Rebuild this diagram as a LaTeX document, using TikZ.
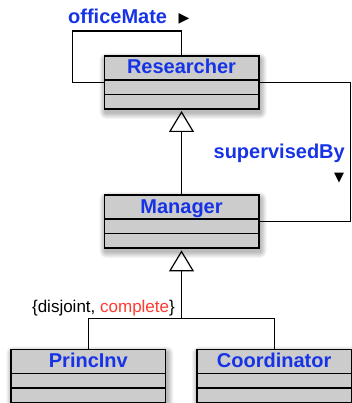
\documentclass[tikz,border=0pt]{standalone}
\usepackage{fontspec}
\setmainfont{Liberation Sans}
\newfontfamily\symfont{DejaVu Sans}
\usetikzlibrary{arrows.meta,calc,backgrounds}
\definecolor{umlblue}{RGB}{22,51,230}
\definecolor{umlred}{RGB}{255,59,48}
\definecolor{umlgray}{RGB}{204,204,204}
\tikzset{
  cls/.style={draw=black, fill=umlgray, line width=1.6pt, minimum width=154.4pt, minimum height=53pt, inner sep=0pt, outer sep=0pt},
  clsname/.style={anchor=base, inner sep=0pt, text=umlblue, font=\fontsize{20}{24}\selectfont\bfseries},
  divider/.style={line width=1.2pt},
  assoc/.style={line width=1.2pt},
  gen/.style={line width=1.2pt, -{Triangle[open, length=21pt, width=25pt, line width=1.2pt]}},
  lbl/.style={inner sep=0pt, text=umlblue, font=\fontsize{20}{24}\selectfont\bfseries},
  dirmark/.style={inner sep=0pt, font=\symfont\fontsize{14}{16}\selectfont},
}
\newcommand\umlclass[4]{%
  \node[cls, anchor=north] (#1) at (#2,#3) {};
  \begin{scope}[on background layer]
    \foreach \s in {1,...,7}{
      \fill[black, opacity=0.045, rounded corners=\s pt]
        ($(#1.north west)+(1.5-0.9*\s,3.5-0.9*\s)$) rectangle ($(#1.south east)+(1.5+0.9*\s,3.5+0.9*\s)$);
    }
  \end{scope}
  \node[clsname] (#1name) at ($(#1.north)+(0,18)$) {#4};
  \draw[divider] ($(#1.north west)+(0,24)$) -- ($(#1.north east)+(0,24)$);
  \draw[divider] ($(#1.north west)+(0,38.7)$) -- ($(#1.north east)+(0,38.7)$);
}
\begin{document}
\begin{tikzpicture}[x=1pt, y=-1pt]
  \useasboundingbox (0,0) rectangle (352,403);
  \umlclass{R}{181.5}{56}{Researcher}
  \umlclass{M}{181.5}{195}{Manager}
  \umlclass{P}{88.35}{349.3}{PrincInv}
  \umlclass{C}{274.15}{349.3}{Coordinator}
  % officeMate self association
  \coordinate (om) at (72.3,31);
  \draw[assoc] (R.north) |- (om) |- (R.west);
  \node[lbl, anchor=base west] (omlabel) at (68,24) {officeMate};
  \node[dirmark] (omdir) at (184,19) {▶};
  % supervisedBy association
  \coordinate (sb) at (350.5,82.5);
  \draw[assoc] (R.east) -- (sb) |- (M.east);
  \node[lbl, anchor=base east] (sblabel) at (345,159) {supervisedBy};
  \node[dirmark, font=\symfont\fontsize{13}{15}\selectfont] (sbdir) at (339,178) {▼};
  % generalizations
  \draw[gen] (M.north) -- ($(R.south)+(0,2)$);
  \coordinate (J) at (181.5,318.3);
  \draw[gen] (J) -- ($(M.south)+(0,2.4)$);
  \draw[assoc] (P.north) |- (J) -| (C.north);
  \node[anchor=base east, inner sep=0pt, font=\fontsize{17}{20}\selectfont] (constraint) at (175,312.7) {\{disjoint, \textcolor{umlred}{complete}\}};
\end{tikzpicture}
\end{document}
